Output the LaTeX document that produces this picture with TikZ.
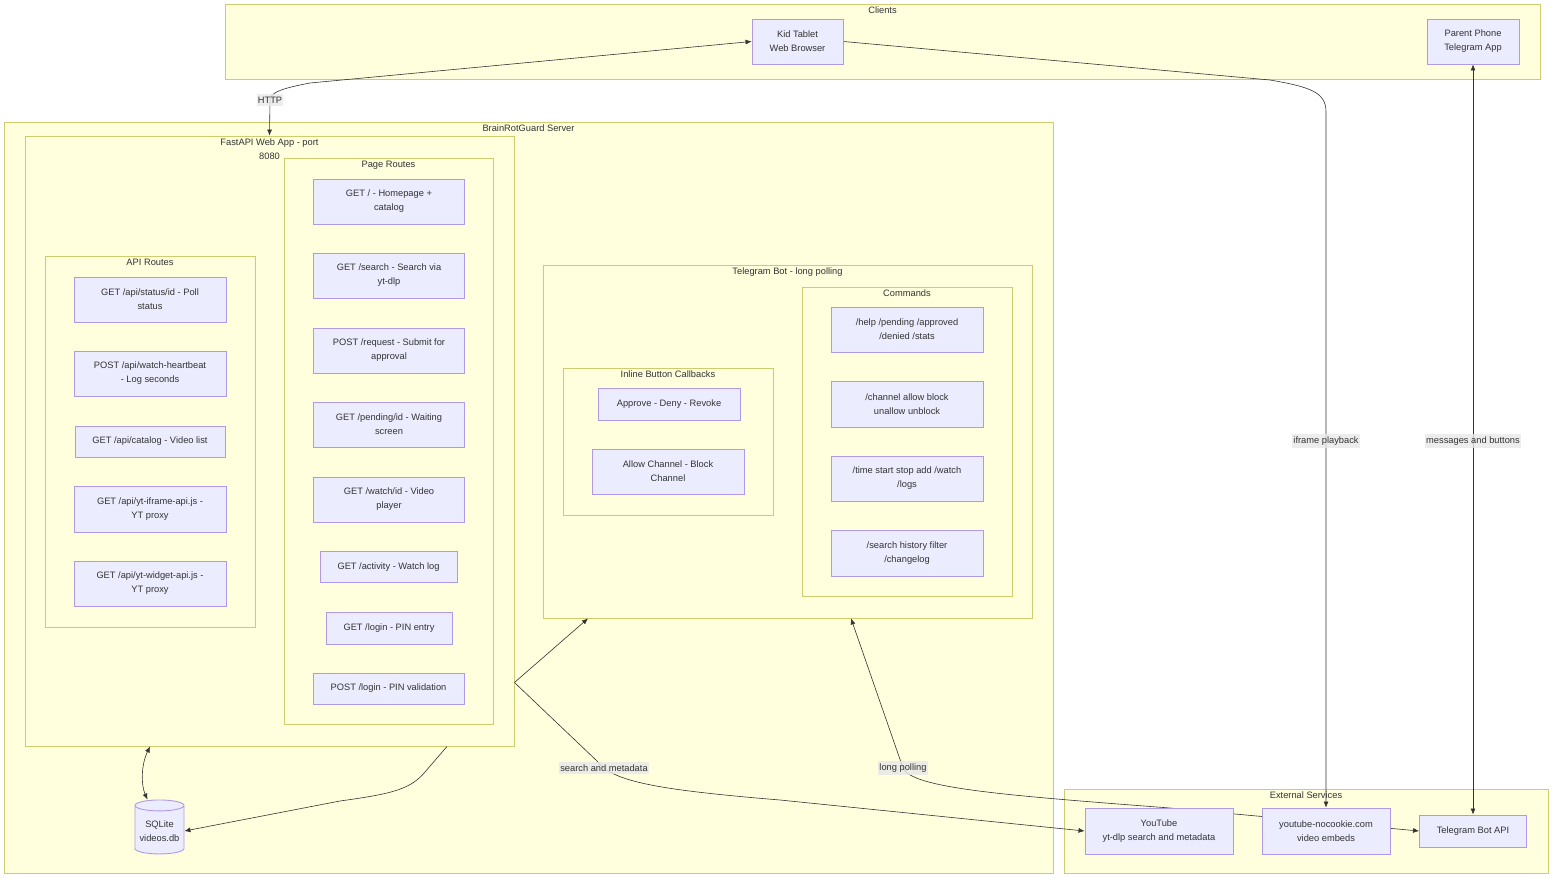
\documentclass[tikz,border=0pt]{standalone}
\usepackage{fontspec}
\setmainfont{Liberation Sans}
\usetikzlibrary{arrows.meta,shapes.geometric}
\definecolor{grpfill}{HTML}{FFFFDE}
\definecolor{grpline}{HTML}{CDCD70}
\definecolor{boxfill}{HTML}{ECECFF}
\definecolor{boxline}{HTML}{B09AE6}
\definecolor{ink}{HTML}{333333}
\definecolor{lblfill}{HTML}{E8E8E8}
\pgfdeclarelayer{bg}
\pgfdeclarelayer{edges}
\pgfsetlayers{bg,edges,main}
\begin{document}
\begin{tikzpicture}[x=1pt, y=-1pt, font=\fontsize{9.3}{14}\selectfont, text=ink,
      >={Latex[length=6pt,width=5pt]},
      grp/.style={draw=grpline, fill=grpfill, line width=0.9pt, inner sep=0pt},
      grplbl/.style={anchor=north, inner sep=0pt, align=center, yshift=-3.5pt},
      box/.style={draw=boxline, fill=boxfill, line width=0.9pt, align=center, inner sep=2pt},
      db/.style={box, cylinder, shape border rotate=90, aspect=0.25},
      link/.style={draw=ink, line width=0.6pt},
      lbl/.style={fill=lblfill, fill opacity=0.8, text opacity=1, inner xsep=1pt, inner ysep=2.5pt}]
    \useasboundingbox (0,0) rectangle (1568,888);
    % subgraphs
    \begin{pgfonlayer}{bg}
      \node[grp, minimum width=1315pt, minimum height=75pt] (clients) at (882.5,41.5) {};
      \node[grp, minimum width=1049pt, minimum height=751pt] (server) at (528.5,497.5) {};
      \node[grp, minimum width=489pt, minimum height=610pt] (fastapi) at (269.5,441) {};
      \node[grp, minimum width=209pt, minimum height=566pt] (pages) at (388.5,441) {};
      \node[grp, minimum width=210pt, minimum height=371pt] (api) at (150,441.5) {};
      \node[grp, minimum width=489pt, minimum height=353pt] (tgbot) at (787.5,441.5) {};
      \node[grp, minimum width=210pt, minimum height=309pt] (cmds) at (907,441.5) {};
      \node[grp, minimum width=210pt, minimum height=147pt] (inline) at (668,441.5) {};
      \node[grp, minimum width=484pt, minimum height=84pt] (external) at (1306,831) {};
    \end{pgfonlayer}
    \node[grplbl] (clientsL) at (clients.north) {Clients};
    \node[grplbl] (serverL) at (server.north) {BrainRotGuard Server};
    \node[grplbl] (fastapiL) at (fastapi.north) {FastAPI Web App - port\\8080};
    \node[grplbl] (pagesL) at (pages.north) {Page Routes};
    \node[grplbl] (apiL) at (api.north) {API Routes};
    \node[grplbl] (tgbotL) at (tgbot.north) {Telegram Bot - long polling};
    \node[grplbl] (cmdsL) at (cmds.north) {Commands};
    \node[grplbl] (inlineL) at (inline.north) {Inline Button Callbacks};
    \node[grplbl] (externalL) at (external.north) {External Services};
    % clients
    \node[box, minimum width=91pt, minimum height=45pt] (kid) at (797.5,41.5) {Kid Tablet\\Web Browser};
    \node[box, minimum width=92pt, minimum height=45pt] (parent) at (1473,41.5) {Parent Phone\\Telegram App};
    % page routes
    \node[box, minimum width=151pt, minimum height=45pt] (home) at (389,201.5) {GET / - Homepage +\\catalog};
    \node[box, minimum width=151pt, minimum height=45pt] (search) at (389,275.5) {GET /search - Search via\\yt-dlp};
    \node[box, minimum width=151pt, minimum height=45pt] (request) at (389,350.5) {POST /request - Submit for\\approval};
    \node[box, minimum width=151pt, minimum height=45pt] (pending) at (389,424.5) {GET /pending/id - Waiting\\screen};
    \node[box, minimum width=151pt, minimum height=45pt] (watch) at (389,499.5) {GET /watch/id - Video\\player};
    \node[box, minimum width=137pt, minimum height=31pt] (activity) at (388.5,567) {GET /activity - Watch log};
    \node[box, minimum width=126pt, minimum height=32pt] (login) at (389,628) {GET /login - PIN entry};
    \node[box, minimum width=151pt, minimum height=31pt] (postlogin) at (388.5,688.5) {POST /login - PIN validation};
    % api routes
    \node[box, minimum width=152pt, minimum height=45pt] (status) at (150,299.5) {GET /api/status/id - Poll\\status};
    \node[box, minimum width=152pt, minimum height=45pt] (heartbeat) at (150,373.5) {POST /api/watch-heartbeat\\- Log seconds};
    \node[box, minimum width=150pt, minimum height=31pt] (catalog) at (150,441.5) {GET /api/catalog - Video list};
    \node[box, minimum width=152pt, minimum height=46pt] (iframeapi) at (150,509) {GET /api/yt-iframe-api.js -\\YT proxy};
    \node[box, minimum width=152pt, minimum height=45pt] (widgetapi) at (150,583.5) {GET /api/yt-widget-api.js -\\YT proxy};
    % telegram bot
    \node[box, minimum width=152pt, minimum height=45pt] (help) at (907,329.5) {/help /pending /approved\\/denied /stats};
    \node[box, minimum width=152pt, minimum height=46pt] (channel) at (907,404) {/channel allow block\\unallow unblock};
    \node[box, minimum width=152pt, minimum height=45pt] (timecmd) at (907,478.5) {/time start stop add /watch\\/logs};
    \node[box, minimum width=152pt, minimum height=46pt] (searchcmd) at (907,553) {/search history filter\\/changelog};
    \node[box, minimum width=142pt, minimum height=32pt] (approve) at (669,404) {Approve - Deny - Revoke};
    \node[box, minimum width=152pt, minimum height=45pt] (allowch) at (668,471.5) {Allow Channel - Block\\Channel};
    % storage and outside services
    \node[db, minimum width=49pt, minimum height=54pt] (sqlite) at (159.5,831) {SQLite\\videos.db};
    \node[box, minimum width=148pt, minimum height=46pt] (youtube) at (1159,831) {YouTube\\yt-dlp search and metadata};
    \node[box, minimum width=128pt, minimum height=46pt] (nocookie) at (1326,831) {youtube-nocookie.com\\video embeds};
    \node[box, minimum width=107pt, minimum height=32pt] (tgapi) at (1473,831) {Telegram Bot API};
    % connectors
    \begin{pgfonlayer}{edges}
      \draw[link, <->] (kid.west) -- (310,83) .. controls (284,88) and (270,92) .. (270,100) -- (fastapi.north);
      \node[lbl] (httpL) at (270,100) {HTTP};
      \draw[link, ->] (kid.east) -- (1270,80) .. controls (1310,87) and (1326,92) .. (1326,112) -- (nocookie.north);
      \node[lbl] (iframeL) at (1326,441) {iframe playback};
      \draw[link, <->] (parent.south) -- (tgapi.north);
      \node[lbl] (msgL) at (1473,441) {messages and buttons};
      \draw[link, ->] ([yshift=6pt]fastapi.east |- postlogin.center) -- ([xshift=-199.5pt]tgbot.south);
      \draw[link, ->] ([yshift=6pt]fastapi.east |- postlogin.center) -- (597,761)
        .. controls (612,782) and (660,790) .. (780,800) -- (youtube.west);
      \node[lbl] (searchL) at (604,768) {search and metadata};
      \draw[link, <->] (tgapi.west) -- (1170,808) .. controls (1000,795) and (912,788) .. (903,768)
        -- ([xshift=63.5pt]tgbot.south);
      \node[lbl] (pollL) at (903,768) {long polling};
      \draw[link, ->] ([xshift=177.5pt]fastapi.south) -- (425,772) .. controls (410,790) and (390,794) .. (340,801)
        -- (sqlite.east);
      \draw[link, <->] ([xshift=-12pt]sqlite.north) .. controls (141,785) and (141,765) .. ([xshift=-119.5pt]fastapi.south);
    \end{pgfonlayer}
  \end{tikzpicture}
\end{document}
